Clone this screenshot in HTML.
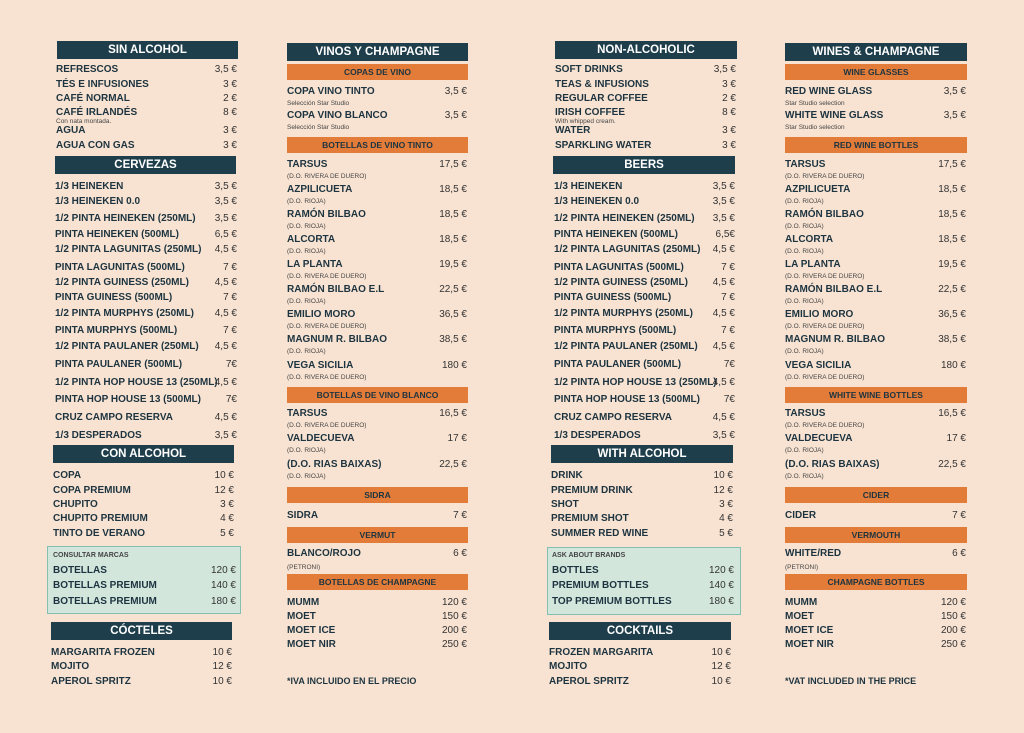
<!DOCTYPE html>
<html><head><meta charset="utf-8"><style>
*{margin:0;padding:0;box-sizing:border-box}
body{width:1024px;height:733px;background:#f8e3d2;position:relative;overflow:hidden;font-family:"Liberation Sans",sans-serif;color:#1d3440}
.s{position:absolute;top:0;height:733px}
.r{position:absolute;left:0;right:0;height:14px;line-height:14px;font-size:10px;font-weight:bold;text-transform:uppercase;white-space:nowrap}
.r .p{position:absolute;right:0;top:0;font-weight:normal;font-size:10px;text-transform:none;color:#333}
.n{position:absolute;left:0;height:9px;line-height:9px;font-size:6.5px;color:#444;white-space:nowrap}
.h{position:absolute;height:18px;line-height:18px;background:#1f3e4b;color:#fff;text-align:center;font-weight:bold;font-size:11.5px;text-transform:uppercase}
.o{position:absolute;height:16px;line-height:16px;background:#e27c38;color:#1d3440;text-align:center;font-weight:bold;font-size:8.5px;text-transform:uppercase}
.box{position:absolute;background:#d2e6dc;border:1.5px solid #83c0b2}
</style></head><body>

<!-- COLUMN 1 -->
<div class="h" style="left:57px;top:41px;width:181px">Sin alcohol</div>
<div class="s" style="left:56px;width:181px">
<div class="r" style="top:63px">Refrescos<span class="p">3,5 €</span></div>
<div class="r" style="top:78px">Tés e infusiones<span class="p">3 €</span></div>
<div class="r" style="top:92px">Café normal<span class="p">2 €</span></div>
<div class="r" style="top:106px">Café irlandés<span class="p">8 €</span></div>
<div class="n" style="top:117px">Con nata montada.</div>
<div class="r" style="top:124px">Agua<span class="p">3 €</span></div>
<div class="r" style="top:139px">Agua con gas<span class="p">3 €</span></div>
</div>
<div class="h" style="left:55px;top:156px;width:181px">Cervezas</div>
<div class="s" style="left:55px;width:182px">
<div class="r" style="top:180px">1/3 Heineken<span class="p">3,5 €</span></div>
<div class="r" style="top:195px">1/3 Heineken 0.0<span class="p">3,5 €</span></div>
<div class="r" style="top:212px">1/2 Pinta Heineken (250ml)<span class="p">3,5 €</span></div>
<div class="r" style="top:228px">Pinta Heineken (500ml)<span class="p">6,5 €</span></div>
<div class="r" style="top:243px">1/2 Pinta Lagunitas (250ml)<span class="p">4,5 €</span></div>
<div class="r" style="top:261px">Pinta Lagunitas (500ml)<span class="p">7 €</span></div>
<div class="r" style="top:276px">1/2 Pinta Guiness (250ml)<span class="p">4,5 €</span></div>
<div class="r" style="top:291px">Pinta Guiness (500ml)<span class="p">7 €</span></div>
<div class="r" style="top:307px">1/2 Pinta Murphys (250ml)<span class="p">4,5 €</span></div>
<div class="r" style="top:324px">Pinta Murphys (500ml)<span class="p">7 €</span></div>
<div class="r" style="top:340px">1/2 Pinta Paulaner (250ml)<span class="p">4,5 €</span></div>
<div class="r" style="top:358px">Pinta Paulaner (500ml)<span class="p">7€</span></div>
<div class="r" style="top:376px">1/2 Pinta Hop House 13 (250ml)<span class="p">4,5 €</span></div>
<div class="r" style="top:393px">Pinta Hop House 13 (500ml)<span class="p">7€</span></div>
<div class="r" style="top:411px">Cruz Campo Reserva<span class="p">4,5 €</span></div>
<div class="r" style="top:429px">1/3 Desperados<span class="p">3,5 €</span></div>
</div>
<div class="h" style="left:53px;top:445px;width:181px">Con alcohol</div>
<div class="s" style="left:53px;width:181px">
<div class="r" style="top:469px">Copa<span class="p">10 €</span></div>
<div class="r" style="top:484px">Copa premium<span class="p">12 €</span></div>
<div class="r" style="top:498px">Chupito<span class="p">3 €</span></div>
<div class="r" style="top:512px">Chupito premium<span class="p">4 €</span></div>
<div class="r" style="top:527px">Tinto de verano<span class="p">5 €</span></div>
</div>
<div class="box" style="left:47px;top:546px;width:194px;height:68px"></div>
<div class="s" style="left:53px;width:183px">
<div class="n" style="top:551px;font-weight:bold;font-size:7px">CONSULTAR MARCAS</div>
<div class="r" style="top:564px">Botellas<span class="p">120 €</span></div>
<div class="r" style="top:579px">Botellas premium<span class="p">140 €</span></div>
<div class="r" style="top:595px">Botellas premium<span class="p">180 €</span></div>
</div>
<div class="h" style="left:51px;top:622px;width:181px">Cócteles</div>
<div class="s" style="left:51px;width:181px">
<div class="r" style="top:646px">Margarita frozen<span class="p">10 €</span></div>
<div class="r" style="top:660px">Mojito<span class="p">12 €</span></div>
<div class="r" style="top:675px">Aperol spritz<span class="p">10 €</span></div>
</div>

<!-- COLUMN 2 -->
<div class="h" style="left:287px;top:43px;width:181px">Vinos y champagne</div>
<div class="o" style="left:287px;top:64px;width:181px">Copas de vino</div>
<div class="o" style="left:287px;top:137px;width:181px">Botellas de vino tinto</div>
<div class="o" style="left:287px;top:387px;width:181px">Botellas de vino blanco</div>
<div class="o" style="left:287px;top:487px;width:181px">Sidra</div>
<div class="o" style="left:287px;top:527px;width:181px">Vermut</div>
<div class="o" style="left:287px;top:574px;width:181px">Botellas de champagne</div>
<div class="s" style="left:287px;width:180px">
<div class="r" style="top:85px">Copa vino tinto<span class="p">3,5 €</span></div><div class="n" style="top:99px">Selección Star Studio</div>
<div class="r" style="top:109px">Copa vino blanco<span class="p">3,5 €</span></div><div class="n" style="top:123px">Selección Star Studio</div>
<div class="r" style="top:158px">Tarsus<span class="p">17,5 €</span></div><div class="n" style="top:172px">(D.O. RIVERA DE DUERO)</div>
<div class="r" style="top:183px">Azpilicueta<span class="p">18,5 €</span></div><div class="n" style="top:197px">(D.O. RIOJA)</div>
<div class="r" style="top:208px">Ramón Bilbao<span class="p">18,5 €</span></div><div class="n" style="top:222px">(D.O. RIOJA)</div>
<div class="r" style="top:233px">Alcorta<span class="p">18,5 €</span></div><div class="n" style="top:247px">(D.O. RIOJA)</div>
<div class="r" style="top:258px">La Planta<span class="p">19,5 €</span></div><div class="n" style="top:272px">(D.O. RIVERA DE DUERO)</div>
<div class="r" style="top:283px">Ramón Bilbao E.L<span class="p">22,5 €</span></div><div class="n" style="top:297px">(D.O. RIOJA)</div>
<div class="r" style="top:308px">Emilio Moro<span class="p">36,5 €</span></div><div class="n" style="top:322px">(D.O. RIVERA DE DUERO)</div>
<div class="r" style="top:333px">Magnum R. Bilbao<span class="p">38,5 €</span></div><div class="n" style="top:347px">(D.O. RIOJA)</div>
<div class="r" style="top:359px">Vega Sicilia<span class="p">180 €</span></div><div class="n" style="top:373px">(D.O. RIVERA DE DUERO)</div>
<div class="r" style="top:407px">Tarsus<span class="p">16,5 €</span></div><div class="n" style="top:421px">(D.O. RIVERA DE DUERO)</div>
<div class="r" style="top:432px">Valdecueva<span class="p">17 €</span></div><div class="n" style="top:446px">(D.O. RIOJA)</div>
<div class="r" style="top:458px">(D.O. Rias Baixas)<span class="p">22,5 €</span></div><div class="n" style="top:472px">(D.O. RIOJA)</div>
<div class="r" style="top:509px">Sidra<span class="p">7 €</span></div>
<div class="r" style="top:547px">Blanco/Rojo<span class="p">6 €</span></div><div class="n" style="top:563px">(PETRONI)</div>
<div class="r" style="top:596px">Mumm<span class="p">120 €</span></div>
<div class="r" style="top:610px">Moet<span class="p">150 €</span></div>
<div class="r" style="top:624px">Moet Ice<span class="p">200 €</span></div>
<div class="r" style="top:638px">Moet Nir<span class="p">250 €</span></div>
<div class="r" style="top:674px;font-size:9px">*IVA incluido en el precio</div>
</div>

<!-- COLUMN 3 -->
<div class="h" style="left:555px;top:41px;width:182px">Non-alcoholic</div>
<div class="s" style="left:555px;width:181px">
<div class="r" style="top:63px">Soft drinks<span class="p">3,5 €</span></div>
<div class="r" style="top:78px">Teas &amp; infusions<span class="p">3 €</span></div>
<div class="r" style="top:92px">Regular coffee<span class="p">2 €</span></div>
<div class="r" style="top:106px">Irish coffee<span class="p">8 €</span></div>
<div class="n" style="top:117px">With whipped cream.</div>
<div class="r" style="top:124px">Water<span class="p">3 €</span></div>
<div class="r" style="top:139px">Sparkling water<span class="p">3 €</span></div>
</div>
<div class="h" style="left:553px;top:156px;width:182px">Beers</div>
<div class="s" style="left:554px;width:181px">
<div class="r" style="top:180px">1/3 Heineken<span class="p">3,5 €</span></div>
<div class="r" style="top:195px">1/3 Heineken 0.0<span class="p">3,5 €</span></div>
<div class="r" style="top:212px">1/2 Pinta Heineken (250ml)<span class="p">3,5 €</span></div>
<div class="r" style="top:228px">Pinta Heineken (500ml)<span class="p">6,5€</span></div>
<div class="r" style="top:243px">1/2 Pinta Lagunitas (250ml)<span class="p">4,5 €</span></div>
<div class="r" style="top:261px">Pinta Lagunitas (500ml)<span class="p">7 €</span></div>
<div class="r" style="top:276px">1/2 Pinta Guiness (250ml)<span class="p">4,5 €</span></div>
<div class="r" style="top:291px">Pinta Guiness (500ml)<span class="p">7 €</span></div>
<div class="r" style="top:307px">1/2 Pinta Murphys (250ml)<span class="p">4,5 €</span></div>
<div class="r" style="top:324px">Pinta Murphys (500ml)<span class="p">7 €</span></div>
<div class="r" style="top:340px">1/2 Pinta Paulaner (250ml)<span class="p">4,5 €</span></div>
<div class="r" style="top:358px">Pinta Paulaner (500ml)<span class="p">7€</span></div>
<div class="r" style="top:376px">1/2 Pinta Hop House 13 (250ml)<span class="p">4,5 €</span></div>
<div class="r" style="top:393px">Pinta Hop House 13 (500ml)<span class="p">7€</span></div>
<div class="r" style="top:411px">Cruz Campo Reserva<span class="p">4,5 €</span></div>
<div class="r" style="top:429px">1/3 Desperados<span class="p">3,5 €</span></div>
</div>
<div class="h" style="left:551px;top:445px;width:182px">With alcohol</div>
<div class="s" style="left:551px;width:182px">
<div class="r" style="top:469px">Drink<span class="p">10 €</span></div>
<div class="r" style="top:484px">Premium drink<span class="p">12 €</span></div>
<div class="r" style="top:498px">Shot<span class="p">3 €</span></div>
<div class="r" style="top:512px">Premium shot<span class="p">4 €</span></div>
<div class="r" style="top:527px">Summer red wine<span class="p">5 €</span></div>
</div>
<div class="box" style="left:547px;top:547px;width:194px;height:68px"></div>
<div class="s" style="left:552px;width:182px">
<div class="n" style="top:551px;font-weight:bold;font-size:7px">ASK ABOUT BRANDS</div>
<div class="r" style="top:564px">Bottles<span class="p">120 €</span></div>
<div class="r" style="top:579px">Premium bottles<span class="p">140 €</span></div>
<div class="r" style="top:595px">Top premium bottles<span class="p">180 €</span></div>
</div>
<div class="h" style="left:549px;top:622px;width:182px">Cocktails</div>
<div class="s" style="left:549px;width:182px">
<div class="r" style="top:646px">Frozen margarita<span class="p">10 €</span></div>
<div class="r" style="top:660px">Mojito<span class="p">12 €</span></div>
<div class="r" style="top:675px">Aperol spritz<span class="p">10 €</span></div>
</div>

<!-- COLUMN 4 -->
<div class="h" style="left:785px;top:43px;width:182px">Wines &amp; champagne</div>
<div class="o" style="left:785px;top:64px;width:182px">Wine glasses</div>
<div class="o" style="left:785px;top:137px;width:182px">Red wine bottles</div>
<div class="o" style="left:785px;top:387px;width:182px">White wine bottles</div>
<div class="o" style="left:785px;top:487px;width:182px">Cider</div>
<div class="o" style="left:785px;top:527px;width:182px">Vermouth</div>
<div class="o" style="left:785px;top:574px;width:182px">Champagne bottles</div>
<div class="s" style="left:785px;width:181px">
<div class="r" style="top:85px">Red wine glass<span class="p">3,5 €</span></div><div class="n" style="top:99px">Star Studio selection</div>
<div class="r" style="top:109px">White wine glass<span class="p">3,5 €</span></div><div class="n" style="top:123px">Star Studio selection</div>
<div class="r" style="top:158px">Tarsus<span class="p">17,5 €</span></div><div class="n" style="top:172px">(D.O. RIVERA DE DUERO)</div>
<div class="r" style="top:183px">Azpilicueta<span class="p">18,5 €</span></div><div class="n" style="top:197px">(D.O. RIOJA)</div>
<div class="r" style="top:208px">Ramón Bilbao<span class="p">18,5 €</span></div><div class="n" style="top:222px">(D.O. RIOJA)</div>
<div class="r" style="top:233px">Alcorta<span class="p">18,5 €</span></div><div class="n" style="top:247px">(D.O. RIOJA)</div>
<div class="r" style="top:258px">La Planta<span class="p">19,5 €</span></div><div class="n" style="top:272px">(D.O. RIVERA DE DUERO)</div>
<div class="r" style="top:283px">Ramón Bilbao E.L<span class="p">22,5 €</span></div><div class="n" style="top:297px">(D.O. RIOJA)</div>
<div class="r" style="top:308px">Emilio Moro<span class="p">36,5 €</span></div><div class="n" style="top:322px">(D.O. RIVERA DE DUERO)</div>
<div class="r" style="top:333px">Magnum R. Bilbao<span class="p">38,5 €</span></div><div class="n" style="top:347px">(D.O. RIOJA)</div>
<div class="r" style="top:359px">Vega Sicilia<span class="p">180 €</span></div><div class="n" style="top:373px">(D.O. RIVERA DE DUERO)</div>
<div class="r" style="top:407px">Tarsus<span class="p">16,5 €</span></div><div class="n" style="top:421px">(D.O. RIVERA DE DUERO)</div>
<div class="r" style="top:432px">Valdecueva<span class="p">17 €</span></div><div class="n" style="top:446px">(D.O. RIOJA)</div>
<div class="r" style="top:458px">(D.O. Rias Baixas)<span class="p">22,5 €</span></div><div class="n" style="top:472px">(D.O. RIOJA)</div>
<div class="r" style="top:509px">Cider<span class="p">7 €</span></div>
<div class="r" style="top:547px">White/Red<span class="p">6 €</span></div><div class="n" style="top:563px">(PETRONI)</div>
<div class="r" style="top:596px">Mumm<span class="p">120 €</span></div>
<div class="r" style="top:610px">Moet<span class="p">150 €</span></div>
<div class="r" style="top:624px">Moet Ice<span class="p">200 €</span></div>
<div class="r" style="top:638px">Moet Nir<span class="p">250 €</span></div>
<div class="r" style="top:674px;font-size:9px">*VAT included in the price</div>
</div>
</body></html>
